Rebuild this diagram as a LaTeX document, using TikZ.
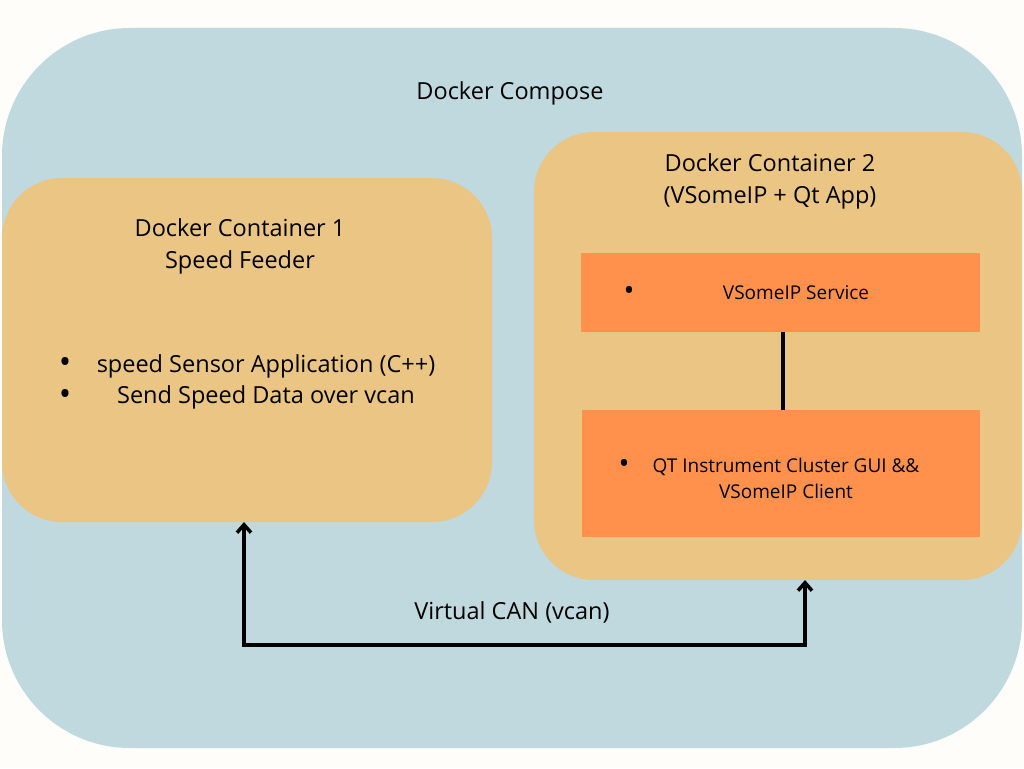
\documentclass[tikz,border=0pt]{standalone}
\usepackage{fontspec}
\setmainfont{Open Sans}
\usetikzlibrary{arrows.meta}
\definecolor{pagebg}{HTML}{FEFDF9}
\definecolor{composefill}{HTML}{BFD9DE}
\definecolor{contfill}{HTML}{EBC584}
\definecolor{svcfill}{HTML}{FF914D}
\begin{document}
\begin{tikzpicture}[x=1pt,y=-1pt,
  box/.style={inner sep=0pt, outer sep=0pt, draw=none, anchor=north west},
  composebox/.style={box, fill=composefill, rounded corners=128pt},
  contbox/.style={box, fill=contfill, rounded corners=60pt},
  svcbox/.style={box, fill=svcfill},
  bigtext/.style={inner sep=0pt, anchor=base, align=center, font=\fontsize{23.5}{31.5}\selectfont},
  smalltext/.style={inner sep=0pt, anchor=base, align=center, font=\fontsize{19}{26}\selectfont},
  bigdot/.style={inner sep=0pt, anchor=center, font=\fontsize{33}{34}\selectfont},
  smalldot/.style={inner sep=0pt, anchor=center, font=\fontsize{29}{30}\selectfont},
  link/.style={line width=3.5pt, black},
  canbus/.style={line width=4pt, black, {Straight Barb[length=8pt,width=14pt,line width=3.5pt]}-{Straight Barb[length=8pt,width=14pt,line width=3.5pt]}}
]
\fill[pagebg] (0,0) rectangle (1024,768);
\useasboundingbox (0,0) rectangle (1024,768);

\node[composebox, minimum width=1020pt, minimum height=720pt] (compose) at (2,28) {};
\node[bigtext] (title) at (510,99) {Docker Compose};

% container 1
\node[contbox, minimum width=490pt, minimum height=344pt] (c1) at (2,178) {};
\node[bigtext] (c1head) at (240,268) {Docker Container 1\\Speed Feeder};
\node[bigtext] (c1b1) at (266,372) {speed Sensor Application (C++)};
\node[bigtext] (c1b2) at (266,403) {Send Speed Data over vcan};
\node[bigdot] (c1d1) at (65,365) {•};
\node[bigdot] (c1d2) at (65,397) {•};

% container 2
\node[contbox, minimum width=488pt, minimum height=448pt] (c2) at (534,132) {};
\node[bigtext] (c2head) at (770,203) {Docker Container 2\\(VSomeIP + Qt App)};

\node[svcbox, minimum width=399pt, minimum height=79pt] (svc) at (581,253) {};
\node[smalltext] (svctext) at (796,299) {VSomeIP Service};
\node[smalldot] (svcdot) at (629,293) {•};

\node[svcbox, minimum width=398pt, minimum height=127pt] (qt) at (582,410) {};
\node[smalltext] (qttext) at (786,498) {QT Instrument Cluster GUI \&\&\\VSomeIP Client};
\node[smalldot] (qtdot) at (624,466) {•};

\draw[link] ([xshift=2.5pt]svc.south) -- ([xshift=2.5pt]svc.south |- qt.north);

% virtual CAN
\coordinate (busL) at (244,645);
\coordinate (busR) at (805,645);
\draw[canbus] (c1.south -| busL) -- (busL) -- (busR) -- (c2.south -| busR);
\node[bigtext] (canlabel) at (512,619) {Virtual CAN (vcan)};
\end{tikzpicture}
\end{document}
